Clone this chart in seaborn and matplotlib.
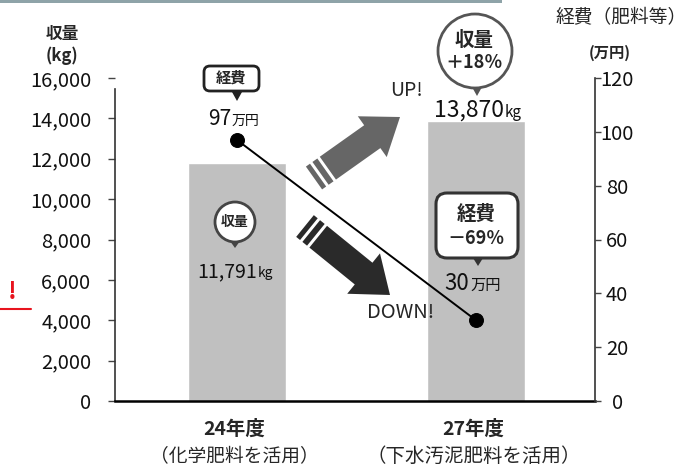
import numpy as np
import pandas as pd
import matplotlib
matplotlib.use("Agg")
import matplotlib.pyplot as plt
import seaborn as sns
from matplotlib.patches import Circle, FancyBboxPatch, Polygon, Rectangle

# データ
years = ["24年度", "27年度"]
fert_notes = ["（化学肥料を活用）", "（下水汚泥肥料を活用）"]
yields_kg = [11791, 13870]
cost_man_yen = [97, 30]
left_ticks = [0, 2000, 4000, 6000, 8000, 10000, 12000, 14000, 16000]
right_ticks = [0, 20, 40, 60, 80, 100, 120]
yield_change = "＋18％"
cost_change = "－69％"

sns.set_theme(style="white")
plt.rcParams["font.family"] = ["Noto Sans CJK JP", "DejaVu Sans"]

W, H = 686, 470
fig = plt.figure(figsize=(W / 100, H / 100), dpi=100)
fig.patch.set_facecolor("white")

# 収量（棒）
ax = fig.add_axes([115 / W, 1 - 401 / H, 480 / W, 323 / H])
ax.patch.set_visible(False)
df = pd.DataFrame({"year": years, "yield": yields_kg})
sns.barplot(data=df, x="year", y="yield", color="#c0c0c0", saturation=1,
            width=0.41, ax=ax)
ax.set_xlim(-0.51, 1.498)
ax.set_ylim(0, 16000)
ax.set_yticks(left_ticks)
ax.set_yticklabels([f"{v:,}" for v in left_ticks])
ax.set_xticks([0, 1])
ax.set_xticklabels([])
ax.set_xlabel("")
ax.set_ylabel("")
ax.tick_params(axis="x", length=0)
ax.tick_params(axis="y", direction="out", length=5, width=1, color="#444444",
               labelsize=14.5, labelcolor="#111111", pad=12, left=True)
ax.yaxis.get_major_ticks()[-1].tick1line.set_visible(False)
for s in ["top", "right"]:
    ax.spines[s].set_visible(False)
ax.spines["left"].set_color("#333333")
ax.spines["left"].set_linewidth(1.2)
ax.spines["left"].set_bounds(0, 15450)
ax.spines["bottom"].set_color("black")
ax.spines["bottom"].set_linewidth(1.8)

note_sizes = [13.5, 14]
for i, (yr, note) in enumerate(zip(years, fert_notes)):
    ax.text(i - 0.01, -0.087, yr, transform=ax.get_xaxis_transform(),
            ha="center", va="center", fontsize=14, fontweight="bold")
    ax.text(i - 0.01, -0.172, note, transform=ax.get_xaxis_transform(),
            ha="center", va="center", fontsize=note_sizes[i])

# 経費（折れ線）
ax2 = ax.twinx()
sns.lineplot(x=[0, 1], y=cost_man_yen, ax=ax2, color="black", lw=1.4,
             marker="o", markersize=10, markeredgecolor="black")
ax2.set_xlim(-0.51, 1.498)
ax2.set_ylim(0, 120)
ax2.set_yticks(right_ticks)
ax2.set_ylabel("")
ax2.tick_params(axis="y", direction="out", length=4, width=1, color="#444444",
                labelsize=14.5, labelcolor="#111111", pad=12, right=True)
for lab in ax2.get_yticklabels():
    lab.set_horizontalalignment("center")
for s in ["top", "left", "bottom"]:
    ax2.spines[s].set_visible(False)
ax2.spines["right"].set_color("#333333")
ax2.spines["right"].set_linewidth(1.2)
ax2.set_zorder(3)

# 注釈レイヤー（ピクセル座標）
ov = fig.add_axes([0, 0, 1, 1], zorder=2)
ov.set_xlim(0, W)
ov.set_ylim(H, 0)
ov.axis("off")
ov.patch.set_visible(False)

ov.add_patch(Rectangle((0, 0), 502, 3, color="#8ea3a8", lw=0))

ov.text(62, 34, "収量", ha="center", va="center", fontsize=12, fontweight="bold")
ov.text(62, 56, "(kg)", ha="center", va="center", fontsize=12, fontweight="bold")
ov.text(621, 18, "経費（肥料等）", ha="center", va="center", fontsize=13.5)
ov.text(610, 53, "(万円)", ha="center", va="center", fontsize=11, fontweight="bold")

# 赤い「！」
ov.text(12, 292, "!", ha="center", va="center", fontsize=17,
        fontweight="bold", color="#e8141e")
ov.plot([0, 31], [309, 309], color="#e8141e", lw=1.5)


def stripe_arrow(tail, tip, color, w=28, hw=50, hl=34):
    t = np.array(tail, float)
    p = np.array(tip, float)
    d = p - t
    L = np.hypot(*d)
    u = d / L
    n = np.array([-u[1], u[0]])
    for s0, s1 in [(0, 5), (8, 14)]:
        q = [t + u * s0 + n * w / 2, t + u * s1 + n * w / 2,
             t + u * s1 - n * w / 2, t + u * s0 - n * w / 2]
        ov.add_patch(Polygon(q, closed=True, color=color, lw=0))
    b = L - hl
    body = [t + u * 17 + n * w / 2, t + u * b + n * w / 2, t + u * b + n * hw / 2,
            p, t + u * b - n * hw / 2, t + u * b - n * w / 2, t + u * 17 - n * w / 2]
    ov.add_patch(Polygon(body, closed=True, color=color, lw=0))


stripe_arrow((314, 178), (400, 117), "#666666")
stripe_arrow((305, 226), (390, 295), "#2a2a2a", hw=52)
ov.text(407, 90, "UP!", ha="center", va="center", fontsize=14)
ov.text(401, 313, "DOWN!", ha="center", va="center", fontsize=14.5)


def pointer(x, y0, y1, color):
    ov.add_patch(Polygon([(x - 5, y0), (x + 5, y0), (x, y1)], closed=True,
                         color=color, lw=0))


# 24年度 経費
ov.add_patch(FancyBboxPatch((204, 66), 55, 25, boxstyle="round,pad=0,rounding_size=6",
                            fc="white", ec="#222222", lw=2))
pointer(237, 92, 101, "#222222")
ov.text(231, 78, "経費", ha="center", va="center", fontsize=11, fontweight="bold")


def value_label(xs, yb, num, unit, fs_num, fs_unit):
    ov.text(xs, yb, num, ha="right", va="baseline", fontsize=fs_num, color="#111111")
    ov.text(xs + 1, yb, unit, ha="left", va="baseline", fontsize=fs_unit, color="#111111")


value_label(231, 125, f"{cost_man_yen[0]}", "万円", 15, 10)

# 24年度 収量
ov.add_patch(Circle((235, 222), 20, fc="white", ec="#444444", lw=2))
pointer(235, 241, 248, "#444444")
ov.text(235, 222, "収量", ha="center", va="center", fontsize=10, fontweight="bold")
value_label(257, 277, f"{yields_kg[0]:,}", "kg", 14, 10)

# 27年度 収量
ov.add_patch(Circle((475, 51), 37, fc="white", ec="#555555", lw=2))
pointer(477, 87, 96, "#555555")
ov.text(474, 41, "収量", ha="center", va="center", fontsize=14, fontweight="bold")
ov.text(474, 63, yield_change, ha="center", va="center", fontsize=13, fontweight="bold")
value_label(504, 117, f"{yields_kg[1]:,}", "kg", 16.5, 11)

# 27年度 経費
ov.add_patch(FancyBboxPatch((436, 193), 82, 65, boxstyle="round,pad=0,rounding_size=11",
                            fc="white", ec="#333333", lw=2.2))
pointer(478, 258, 266, "#333333")
ov.text(476, 214, "経費", ha="center", va="center", fontsize=14, fontweight="bold")
ov.text(476, 238, cost_change, ha="center", va="center", fontsize=13, fontweight="bold")
value_label(469, 290, f"{cost_man_yen[1]}", "万円", 16, 11)

fig.savefig("out.png", dpi=100)
